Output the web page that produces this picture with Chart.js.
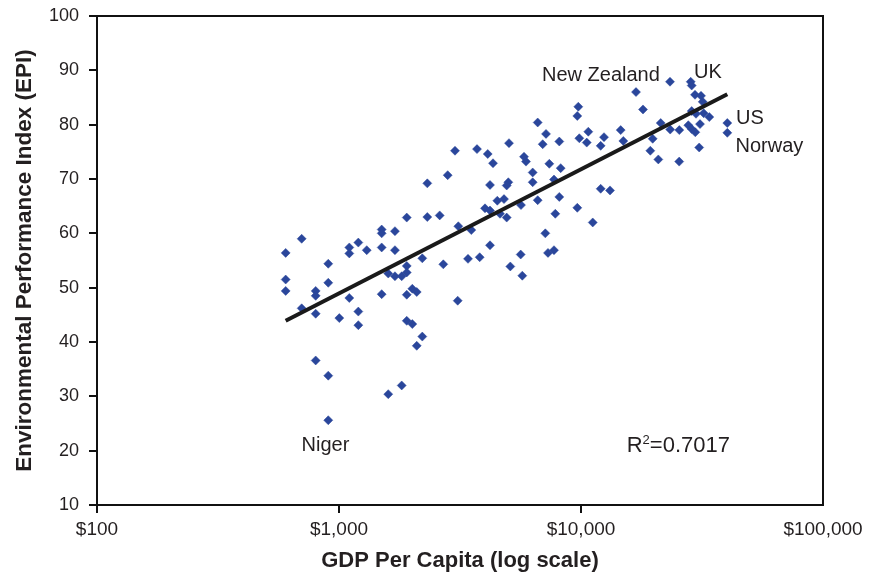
<!DOCTYPE html>
<html><head><meta charset="utf-8">
<script src="https://cdn.jsdelivr.net/npm/chart.js@4"></script>
<style>html,body{margin:0;padding:0;background:#fff}#wrap{width:870px;height:576px}</style>
</head><body><div id="wrap"><canvas id="c" width="870" height="576"></canvas></div>
<script>
const gdpPerCapita = [701,602,903,1103,1103,1202,1302,1501,1501,1703,1501,1703,602,602,801,801,903,701,801,1003,1103,1202,1202,1501,1598,1703,1816,1905,1905,2209,2698,3094,1905,2009,2095,1905,2009,2209,2095,801,903,1598,1816,903,
7169,5040,3015,3717,4117,4330,5815,5926,6947,8134,9840,10560,10720,12450,12060,7396,8244,6315,6315,7733,2813,2317,4207,5008,4932,12060,13180,4510,4807,5651,6624,8134,4012,4207,4627,4932,9653,7830,11180,1905,2317,2607,3112,3522,7121,4207,3413,3814,5634,7305,7733,5104,5720,
23320,28400,28670,29590,31330,31840,16880,18040,9745,9653,6624,14590,14960,21350,23370,25480,19780,19340,20870,25460,30790,28670,29870,32140,33900,31030,27760,28670,29670,40230,40230];
const epiScore = [59.0,56.4,54.4,57.4,56.3,58.3,56.9,60.7,60.0,60.4,57.4,56.9,51.5,49.4,49.4,48.5,50.9,46.2,45.2,44.4,48.1,45.6,43.1,48.8,52.6,52.1,52.1,54.0,52.8,55.4,54.3,47.6,48.7,49.8,49.2,43.9,43.3,41.0,39.3,36.6,33.8,30.4,32.0,25.6,
78.3,76.6,75.2,75.5,74.6,72.9,74.1,73.2,76.4,76.9,77.5,76.7,78.7,77.7,76.1,72.8,72.0,71.2,69.4,69.9,70.7,69.2,68.9,69.4,68.8,68.2,67.9,66.0,66.3,65.2,66.1,66.7,64.6,64.2,63.6,62.9,64.7,63.6,62.0,62.9,63.0,63.3,61.3,60.6,60.0,57.8,55.3,55.6,56.1,56.4,56.9,53.9,52.2,
87.9,87.9,87.2,85.5,85.3,84.2,86.0,82.8,83.3,81.6,80.4,79.0,77.0,80.3,79.1,79.0,77.4,75.2,73.6,73.2,75.8,82.5,82.0,82.1,81.4,80.1,79.9,79.2,78.6,80.3,78.5];
const trendGdp = [602, 40230];
const trendEpi = [43.9, 85.6];
const xTickValues = [100, 1000, 10000, 100000];
const yTickValues = [10, 20, 30, 40, 50, 60, 70, 80, 90, 100];
const labelText = ['New Zealand', 'UK', 'US', 'Norway', 'Niger'];
const labelGdp = [6900, 29300, 43700, 43500, 700];
const labelEpi = [88.1, 88.5, 80.1, 75.0, 20.0];
const rSquaredValue = '0.7017';
const rSquaredGdp = 15450;
const rSquaredEpi = 19.8;

const FONT = '"Liberation Sans", Arial, Helvetica, sans-serif';
const INK = '#231f20';

const points = gdpPerCapita.map((g, i) => ({x: g, y: epiScore[i]}));
const trend = trendGdp.map((g, i) => ({x: g, y: trendEpi[i]}));

const framePlugin = {
  id: 'frame',
  afterDraw(chart) {
    const {ctx, chartArea: a, scales} = chart;
    ctx.save();
    ctx.strokeStyle = '#111';
    ctx.lineWidth = 2;
    ctx.beginPath();
    ctx.moveTo(a.left, a.top);
    ctx.lineTo(a.right, a.top);
    ctx.lineTo(a.right, a.bottom);
    ctx.stroke();
    ctx.fillStyle = INK;
    ctx.textBaseline = 'alphabetic';
    ctx.textAlign = 'left';
    ctx.font = '20px ' + FONT;
    labelText.forEach((t, i) => {
      ctx.fillText(t, scales.x.getPixelForValue(labelGdp[i]), scales.y.getPixelForValue(labelEpi[i]));
    });
    let x = scales.x.getPixelForValue(rSquaredGdp);
    const y = scales.y.getPixelForValue(rSquaredEpi);
    ctx.font = '22px ' + FONT;
    ctx.fillText('R', x, y);
    x += ctx.measureText('R').width;
    ctx.font = '13px ' + FONT;
    ctx.fillText('2', x, y - 8);
    x += ctx.measureText('2').width;
    ctx.font = '22px ' + FONT;
    ctx.fillText('=' + rSquaredValue, x, y);
    ctx.restore();
  }
};

new Chart(document.getElementById('c'), {
  type: 'scatter',
  data: {
    datasets: [
      {type: 'line', data: trend, borderColor: '#1a1a1a', borderWidth: 4, pointRadius: 0, fill: false, showLine: true},
      {data: points, pointStyle: 'rectRot', pointRadius: 4.5, backgroundColor: '#2a469b', borderColor: '#2a469b', borderWidth: 0.5}
    ]
  },
  options: {
    responsive: false, animation: false, devicePixelRatio: 1,
    layout: {padding: {top: 16, right: 47, left: 0, bottom: 0}},
    plugins: {legend: {display: false}, tooltip: {enabled: false}},
    scales: {
      x: {
        type: 'logarithmic', min: 100, max: 100000,
        afterBuildTicks: s => { s.ticks = xTickValues.map(v => ({value: v, major: true})); },
        afterFit: s => { s.height = 71; },
        ticks: {autoSkip: false, maxRotation: 0, padding: 5, color: INK, font: {family: FONT, size: 19},
          callback: v => '$' + Number(v).toLocaleString('en-US')},
        grid: {drawOnChartArea: false, tickLength: 8, lineWidth: 2,
          color: c => (c.tick && c.tick.value === 100000) ? 'rgba(0,0,0,0)' : '#111'},
        border: {color: '#111', width: 2},
        title: {display: true, text: 'GDP Per Capita (log scale)', color: INK, font: {family: FONT, size: 22, weight: 'bold'}, padding: {top: 0, bottom: 2}}
      },
      y: {
        type: 'linear', min: 10, max: 100,
        afterBuildTicks: s => { s.ticks = yTickValues.map(v => ({value: v})); },
        afterFit: s => { s.width = 97; s.paddingTop = 0; s.paddingBottom = 0; },
        ticks: {padding: 10, color: INK, font: {family: FONT, size: 18}},
        grid: {drawOnChartArea: false, tickLength: 8, lineWidth: 2, color: '#111'},
        border: {color: '#111', width: 2},
        title: {display: true, text: 'Environmental Performance Index (EPI)', color: INK, font: {family: FONT, size: 22.5, weight: 'bold'}, padding: {top: 11, bottom: 0}}
      }
    }
  },
  plugins: [framePlugin]
});
</script></body></html>
